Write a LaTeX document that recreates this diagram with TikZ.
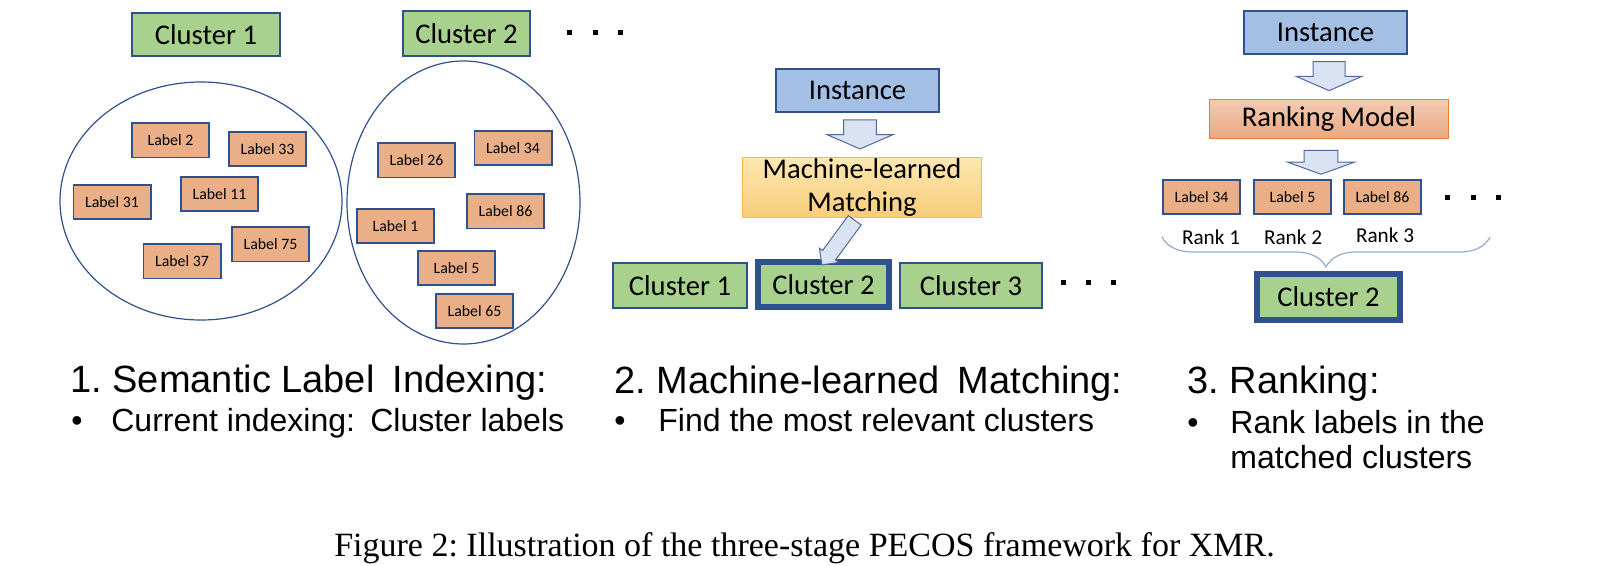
\documentclass[tikz,border=0pt]{standalone}
\usepackage{fontspec}
\usepackage{tikz}
\usepackage{xcolor}
\usetikzlibrary{shapes,arrows,positioning,calc,decorations.pathreplacing}
\newfontfamily\boxfont{Carlito}
\newfontfamily\headfont{Liberation Sans}
\newfontfamily\capfont{Liberation Serif}
\definecolor{edgeblue}{RGB}{47,82,143}
\definecolor{clgreen}{RGB}{169,209,142}
\definecolor{lborange}{RGB}{234,175,134}
\definecolor{instblue}{RGB}{163,192,228}
\definecolor{arrfill}{RGB}{218,227,243}
\definecolor{arrline}{RGB}{80,105,155}
\definecolor{bracecol}{RGB}{143,170,220}
\definecolor{mltop}{RGB}{252,232,178}
\definecolor{mlbot}{RGB}{248,205,120}
\definecolor{mlline}{RGB}{245,185,70}
\definecolor{rktop}{RGB}{242,203,180}
\definecolor{rkbot}{RGB}{234,168,128}
\definecolor{rkline}{RGB}{237,125,49}
\frenchspacing

\begin{document}
\begin{tikzpicture}[x=0.5pt,y=-0.5pt,
  cluster/.style={rectangle, draw=edgeblue, line width=0.85pt, fill=clgreen, inner sep=0pt,
    minimum height=21.65pt, font=\boxfont\fontsize{14.3}{16}\selectfont},
  chosen/.style={cluster, line width=2.8pt},
  labelbox/.style={rectangle, draw=edgeblue, line width=0.85pt, fill=lborange, inner sep=0pt,
    minimum width=38.65pt, minimum height=17.15pt, font=\boxfont\fontsize{7.9}{9}\selectfont},
  instbox/.style={rectangle, draw=edgeblue, line width=0.85pt, fill=instblue, inner sep=0pt,
    minimum width=81.65pt, minimum height=21.65pt, font=\boxfont\fontsize{14.3}{16}\selectfont},
  blockarrow/.style={single arrow, draw=arrline, line width=0.5pt, fill=arrfill,
    single arrow head indent=0pt, inner xsep=0pt},
  heading/.style={anchor=base west, inner sep=0pt, font=\headfont\fontsize{19}{23}\selectfont},
  bullet/.style={anchor=base west, inner sep=0pt, font=\headfont\fontsize{16}{19}\selectfont}]
\useasboundingbox (0,0) rectangle (1598,566);

% stage 1
\node[cluster, minimum width=74.15pt] (clu1) at (206,34.5) {Cluster 1};
\node[cluster, minimum width=63.65pt, minimum height=22.65pt] (clu2) at (466.5,33.5) {Cluster 2};
\foreach \x in {569,595,620} \fill (\x-2.5,30.5) rectangle +(5,5);
\node[ellipse, draw=edgeblue, line width=0.6pt, inner sep=0pt, minimum width=141pt, minimum height=119pt] (ell1) at (201,201) {};
\node[ellipse, draw=edgeblue, line width=0.6pt, inner sep=0pt, minimum width=116.5pt, minimum height=141.5pt] (ell2) at (463.5,202.5) {};
\node[labelbox] (lab2) at (170.5,140.5) {Label 2};
\node[labelbox] (lab33) at (267.5,149) {Label 33};
\node[labelbox] (lab31) at (112,202) {Label 31};
\node[labelbox] (lab11) at (219.5,194) {Label 11};
\node[labelbox] (lab37) at (182,261.5) {Label 37};
\node[labelbox] (lab75) at (270.5,244.5) {Label 75};
\node[labelbox] (lab26) at (416.5,160.5) {Label 26};
\node[labelbox] (lab34) at (513,148) {Label 34};
\node[labelbox] (lab86) at (505.5,211.5) {Label 86};
\node[labelbox] (lab1) at (395.5,226) {Label 1};
\node[labelbox] (lab5) at (456.5,268) {Label 5};
\node[labelbox] (lab65) at (474.5,311) {Label 65};

% stage 2
\node[instbox] (inst2) at (857.5,90.5) {Instance};
\node[rectangle, draw=mlline, line width=0.5pt, top color=mltop, bottom color=mlbot, inner sep=0pt,
  minimum width=119.5pt, minimum height=30pt, align=center,
  font=\boxfont\fontsize{14.3}{16.5}\selectfont] (match) at (862,187.5) {Machine-learned\\Matching};
\node[cluster, minimum width=67.15pt, minimum height=22.65pt] (m1) at (680,285.5) {Cluster 1};
\node[chosen, minimum width=65.7pt, minimum height=22.7pt] (m2) at (823.5,284.5) {Cluster 2};
\node[cluster, minimum width=71.15pt, minimum height=22.65pt] (m3) at (971,285.5) {Cluster 3};
\foreach \x in {1063,1088,1113} \fill (\x-2.5,280.5) rectangle +(5,5);
\node[blockarrow, rotate=-90, anchor=tip, inner ysep=7.9pt, single arrow head extend=8.2pt,
  single arrow tip angle=133, minimum height=14.5pt] (arr2) at ($(match.north)+(-2,-7.5)$) {};
\node[blockarrow, rotate=-126.3, anchor=tip, inner ysep=3.75pt, single arrow head extend=2pt,
  single arrow tip angle=90, minimum height=27.7pt] (arr2b) at ($(m2.north)+(-2,6.5)$) {};

% stage 3
\node[instbox] (inst3) at (1325.5,32.5) {Instance};
\node[rectangle, draw=rkline, line width=0.5pt, top color=rktop, bottom color=rkbot, inner sep=0pt,
  minimum width=119.5pt, minimum height=19.5pt,
  font=\boxfont\fontsize{14.3}{16}\selectfont] (rank) at (1329,119) {Ranking Model};
\node[blockarrow, rotate=-90, anchor=tip, inner ysep=7.75pt, single arrow head extend=8.3pt,
  single arrow tip angle=133, minimum height=14.5pt] (arr3) at ($(rank.north)+(0,-7.8)$) {};
\node[labelbox] (top34) at (1201.5,197) {Label 34};
\node[labelbox] (top5) at (1292.5,197) {Label 5};
\node[labelbox] (top86) at (1382.5,197) {Label 86};
\node[blockarrow, rotate=-90, anchor=tail, inner ysep=8.2pt, single arrow head extend=8.3pt,
  single arrow tip angle=140, minimum height=12pt] (arr3b) at ($(rank.south)+(-8,10.8)$) {};
\foreach \x in {1447,1473,1498} \fill (\x-2.5,195.5) rectangle +(5,5);
\node[anchor=base, inner sep=0pt, font=\boxfont\fontsize{10.6}{12}\selectfont] (rk1) at (1211,245) {Rank 1};
\node[anchor=base, inner sep=0pt, font=\boxfont\fontsize{10.6}{12}\selectfont] (rk2) at (1293,245) {Rank 2};
\node[anchor=base, inner sep=0pt, font=\boxfont\fontsize{10.6}{12}\selectfont] (rk3) at (1385,243) {Rank 3};
\coordinate (brR) at (1490,237);
\coordinate (brL) at (1162,237);
\draw[decorate, decoration={brace, amplitude=15pt}, draw=bracecol, line width=0.6pt] (brR) -- (brL);
\node[chosen, minimum width=71.75pt, minimum height=23.25pt] (r2) at (1328.5,297) {Cluster 2};

% texts
\node[heading] (head1) at (70,392) {1. Semantic Label\hspace{0.2em} Indexing:};
\node[bullet] (item1) at (71,431) {\makebox[20pt][l]{\textbullet}Current indexing:\hspace{0.2em} Cluster labels};
\node[heading] (head2) at (614,393) {2. Machine-learned\hspace{0.2em} Matching:};
\node[bullet] (item2) at (614,431) {\makebox[22pt][l]{\textbullet}Find the most relevant clusters};
\node[heading] (head3) at (1187,393) {3. Ranking:};
\node[bullet] (item3) at (1187,433) {\makebox[21.5pt][l]{\textbullet}Rank labels in the};
\node[bullet] (item3b) at (1230,468) {matched clusters};
\node[anchor=base, inner sep=0pt, font=\capfont\fontsize{17}{20}\selectfont] (caption) at (804.5,556)
  {Figure 2: Illustration of the three-stage PECOS framework for XMR.};
\end{tikzpicture}
\end{document}
